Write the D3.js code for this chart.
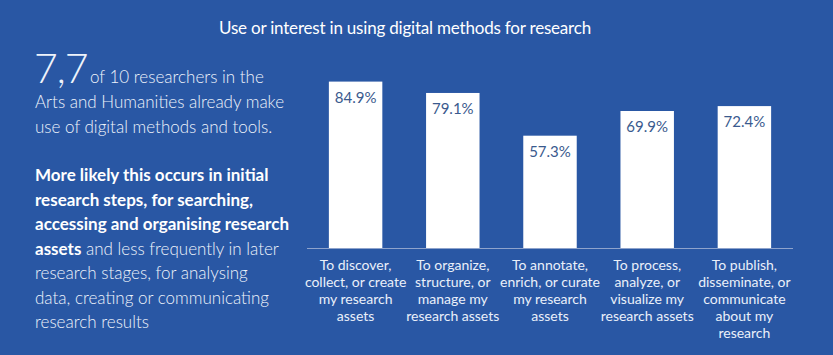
<!DOCTYPE html>
<html>
<head>
<meta charset="utf-8">
<script src="https://cdn.jsdelivr.net/npm/d3@7"></script>
<style>
  body { margin: 0; background: #2957a4; }
  svg text { font-family: Lato, "Open Sans", sans-serif; }
</style>
</head>
<body>
<div id="chart"></div>
<script>
var categories = [
    ["To discover,", "collect, or create", "my research", "assets"],
    ["To organize,", "structure, or", "manage my", "research assets"],
    ["To annotate,", "enrich, or curate", "my research", "assets"],
    ["To process,", "analyze, or", "visualize my", "research assets"],
    ["To publish,", "disseminate, or", "communicate", "about my", "research"]
];
var values = [84.9, 79.1, 57.3, 69.9, 72.4];
var title = "Use or interest in using digital methods for research";

var W = 833, H = 355;
var svg = d3.select("#chart")
  .append("svg")
    .attr("width", W)
    .attr("height", H);

svg.append("rect")
    .attr("width", W)
    .attr("height", H)
    .attr("fill", "#2957a4");

svg.append("text")
    .attr("x", 405)
    .attr("y", 34)
    .attr("text-anchor", "middle")
    .attr("fill", "#ffffff")
    .style("font-size", "17px")
    .style("letter-spacing", "-0.2px")
    .text(title);

// left commentary
var left = svg.append("g").attr("fill", "#eef3fb");

left.append("text")
    .attr("x", 34)
    .attr("y", 83)
    .style("font-size", "41px")
    .style("font-weight", 300)
    .style("letter-spacing", "-1px")
    .text("7,7");

var plain = [
    {x: 90, y: 83, t: "of 10 researchers in the"},
    {x: 35, y: 108, t: "Arts and Humanities already make"},
    {x: 35, y: 133, t: "use of digital methods and tools."}
];
left.selectAll("text.plain")
    .data(plain)
    .enter()
    .append("text")
        .attr("class", "plain")
        .attr("x", function(d) { return d.x })
        .attr("y", function(d) { return d.y })
        .style("font-size", "17px")
        .style("font-weight", 300)
        .text(function(d) { return d.t });

var para = [
    [["More likely this occurs in initial", true]],
    [["research steps, for searching,", true]],
    [["accessing and organising research", true]],
    [["assets", true], [" and less frequently in later", false]],
    [["research stages, for analysing", false]],
    [["data, creating or communicating", false]],
    [["research results", false]]
];
para.forEach(function(line, i) {
    var t = left.append("text")
        .attr("x", 35)
        .attr("y", 181 + i * 24.5)
        .style("font-size", "17px");
    line.forEach(function(p) {
        t.append("tspan")
            .style("font-weight", p[1] ? 700 : 300)
            .attr("fill", p[1] ? "#ffffff" : "#eef3fb")
            .text(p[0]);
    });
});

// bar chart
var x = d3.scaleBand()
    .domain(d3.range(values.length))
    .range([307, 793])
    .paddingInner(0.45)
    .paddingOuter(0.225);

var y = d3.scaleLinear()
    .domain([0, 100])
    .range([248, 52]);

svg.append("g")
    .selectAll("rect")
    .data(values)
    .enter()
    .append("rect")
        .attr("x", function(d, i) { return x(i) })
        .attr("y", function(d) { return y(d) })
        .attr("width", x.bandwidth())
        .attr("height", function(d) { return y(0) - y(d) })
        .attr("fill", "#ffffff");

svg.append("g")
    .selectAll("text")
    .data(values)
    .enter()
    .append("text")
        .attr("x", function(d, i) { return x(i) + x.bandwidth() / 2 })
        .attr("y", function(d) { return y(d) + 21 })
        .attr("text-anchor", "middle")
        .attr("fill", "#3a5a8e")
        .style("font-size", "15px")
        .text(function(d) { return d3.format(".1f")(d) + "%" });

svg.append("line")
    .attr("x1", 307)
    .attr("x2", 793)
    .attr("y1", y(0) + 0.5)
    .attr("y2", y(0) + 0.5)
    .attr("stroke", "#8ea3cc")
    .attr("stroke-width", 1);

var labels = svg.append("g")
    .selectAll("text")
    .data(categories)
    .enter()
    .append("text")
        .attr("x", function(d, i) { return x(i) + x.bandwidth() / 2 })
        .attr("y", 270)
        .attr("text-anchor", "middle")
        .attr("fill", "#eaf0fa")
        .style("font-size", "14px");

labels.selectAll("tspan")
    .data(function(d) { return d })
    .enter()
    .append("tspan")
        .attr("x", function() { return d3.select(this.parentNode).attr("x") })
        .attr("dy", function(d, i) { return i === 0 ? 0 : 17 })
        .text(function(d) { return d });
</script>
</body>
</html>
